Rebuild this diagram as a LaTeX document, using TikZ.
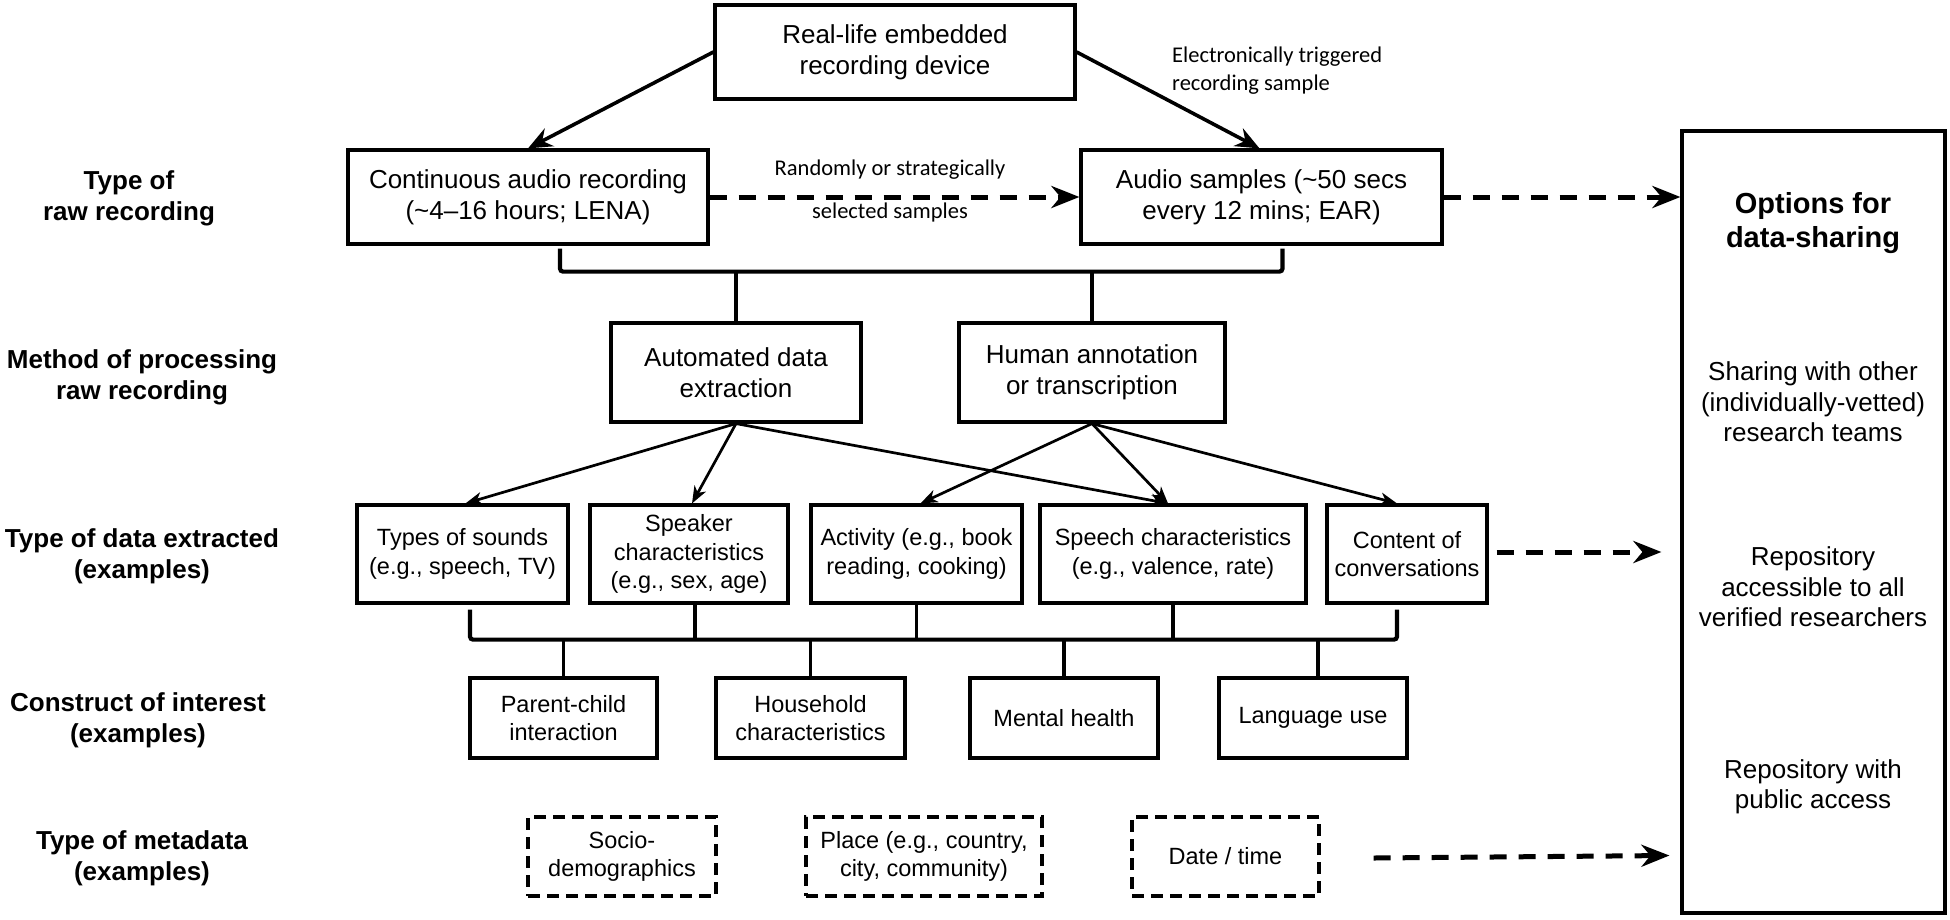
\documentclass[tikz,border=0pt]{standalone}
\usepackage{fontspec}
\setmainfont{Liberation Sans}
\newfontfamily\calibfont{Carlito}
\usetikzlibrary{arrows.meta,calc}
\begin{document}
\begin{tikzpicture}[x=1pt,y=-1pt,
  box/.style={draw, line width=3.2pt, align=center, inner sep=0pt, font=\fontsize{26}{31}\selectfont},
  dbox/.style={draw, line width=3.2pt, align=center, inner sep=0pt, font=\fontsize{23.5}{28.5}\selectfont},
  mbox/.style={dbox, line width=3.2pt, dash pattern=on 12pt off 7pt},
  rowlabel/.style={align=center, inner sep=0pt, font=\bfseries\fontsize{26}{31}\selectfont},
  otitle/.style={align=center, inner sep=0pt, font=\bfseries\fontsize{29}{34}\selectfont},
  otext/.style={align=center, inner sep=0pt, font=\fontsize{26}{30.5}\selectfont},
  note/.style={align=left, inner sep=0pt, font=\calibfont\fontsize{22.5}{28}\selectfont},
  bigarrow/.style={line width=3.6pt, -{Stealth[length=24pt,width=20pt,inset=8pt]}},
  thinarrow/.style={line width=2.7pt, -{Stealth[length=17pt,width=13pt,inset=5pt]}},
  dasharrow/.style={line width=5pt, dash pattern=on 17pt off 12pt, -{Stealth[length=28pt,width=22pt,inset=9pt]}},
  bracket/.style={line width=4.2pt, rounded corners=3pt},
  stem/.style={line width=3.2pt},
]
\useasboundingbox (0,0) rectangle (1950,919);

% top rows
\node[box, minimum width=360pt, minimum height=94pt] (dev) at (895,52) {Real-life embedded\\recording device};
\node[box, minimum width=360pt, minimum height=94pt] (cont) at (528,197) {Continuous audio recording\\(\textasciitilde4–16 hours; LENA)};
\node[box, minimum width=361pt, minimum height=94pt] (audio) at (1261.5,197) {Audio samples (\textasciitilde50 secs\\every 12 mins; EAR)};
\node[draw, line width=3.2pt, minimum width=263pt, minimum height=782pt, inner sep=0pt] (opts) at (1813.5,522) {};
\node[box, minimum width=250pt, minimum height=99pt] (auto) at (736,372.5) {Automated data\\extraction};
\node[box, minimum width=266pt, minimum height=99pt] (human) at (1092,372.5) {Human annotation\\or transcription};

% data row
\node[dbox, minimum width=211pt, minimum height=98pt] (sounds) at (462.5,554) {Types of sounds\\(e.g., speech, TV)};
\node[dbox, minimum width=198pt, minimum height=98pt] (speaker) at (689,554) {Speaker\\characteristics\\(e.g., sex, age)};
\node[dbox, minimum width=211pt, minimum height=98pt] (activity) at (916.5,554) {Activity (e.g., book\\reading, cooking)};
\node[dbox, minimum width=266pt, minimum height=98pt] (speech) at (1173,554) {Speech characteristics\\(e.g., valence, rate)};
\node[dbox, minimum width=160pt, minimum height=98pt] (content) at (1407,554) {Content of\\conversations};

% construct row
\node[dbox, minimum width=187pt, minimum height=80pt] (parent) at (563.5,718) {Parent-child\\interaction};
\node[dbox, minimum width=189pt, minimum height=80pt] (household) at (810.5,718) {Household\\characteristics};
\node[dbox, minimum width=188pt, minimum height=80pt] (mental) at (1064,718) {Mental health};
\node[dbox, minimum width=188pt, minimum height=80pt] (language) at (1313,718) {Language use};

% metadata row
\node[mbox, minimum width=188pt, minimum height=79pt] (socio) at (622,856.5) {Socio-\\demographics};
\node[mbox, minimum width=236pt, minimum height=79pt] (place) at (924,856.5) {Place (e.g., country,\\city, community)};
\node[mbox, minimum width=187pt, minimum height=79pt] (date) at (1225.5,856.5) {Date / time};

% row labels
\node[rowlabel] (l1) at (129,198) {Type of\\raw recording};
\node[rowlabel] (l2) at (142,377) {Method of processing\\raw recording};
\node[rowlabel] (l3) at (142,556) {Type of data extracted\\(examples)};
\node[rowlabel] (l4) at (138,720) {Construct of interest\\(examples)};
\node[rowlabel] (l5) at (142,858) {Type of metadata\\(examples)};

% options texts
\node[otitle] (o1) at (1813,223) {Options for\\data-sharing};
\node[otext] (o2) at (1813,402) {Sharing with other\\(individually-vetted)\\research teams};
\node[otext] (o3) at (1813,587) {Repository\\accessible to all\\verified researchers};
\node[otext] (o4) at (1813,787) {Repository with\\public access};

% notes
\node[note, anchor=west] (etr) at (1172,71) {Electronically triggered\\recording sample};
\node[note] (r1) at (890,170) {Randomly or strategically};
\node[note] (r2) at (890,212) {selected samples};

% connectors, top
\draw[bigarrow] (dev.west) -- (cont.north);
\draw[bigarrow] (dev.east) -- ($(audio.north)+(-2,0)$);
\draw[dasharrow] (cont.east) -- (audio.west);
\draw[dasharrow] (audio.east) -- (opts.west |- audio.east);

% bracket 1
\coordinate (br1) at ($(cont.south)+(32,26)$);
\draw[bracket] ($(cont.south)+(32,3)$) -- (br1) -| ($(audio.south)+(21,3)$);
\draw[stem] (auto.north) -- (auto.north |- br1);
\draw[stem] (human.north) -- (human.north |- br1);

% processing -> data
\draw[thinarrow] (auto.south) -- ($(sounds.north)+(3,0)$);
\draw[thinarrow] (auto.south) -- ($(speaker.north)+(3,0)$);
\draw[thinarrow] (auto.south) -- ($(speech.north)+(-5,0)$);
\draw[thinarrow] (human.south) -- ($(activity.north)+(4,0)$);
\draw[thinarrow] (human.south) -- ($(speech.north)+(-5,0)$);
\draw[thinarrow] (human.south) -- ($(content.north)+(-10,0)$);

% bracket 2
\coordinate (br2) at ($(sounds.south)+(7.5,35)$);
\draw[bracket] ($(sounds.south)+(7.5,5)$) -- (br2) -| ($(content.south)+(-10,5)$);
\draw[stem] ($(speaker.south)+(6,0)$) -- ($(speaker.south |- br2)+(6,0)$);
\draw[stem] (activity.south) -- (activity.south |- br2);
\draw[stem] (speech.south) -- (speech.south |- br2);
\draw[stem] (parent.north) -- (parent.north |- br2);
\draw[stem] (household.north) -- (household.north |- br2);
\draw[stem] (mental.north) -- (mental.north |- br2);
\draw[stem] ($(language.north)+(5,0)$) -- ($(language.north |- br2)+(5,0)$);

% dashed arrows to options
\draw[dasharrow] ($(content.east)+(8,-2)$) -- ($(opts.west |- content.east)+(-19,-2)$);
\draw[dasharrow] ($(date.east)+(53,1.5)$) -- ($(opts.west |- date.east)+(-11,-1)$);
\end{tikzpicture}
\end{document}
